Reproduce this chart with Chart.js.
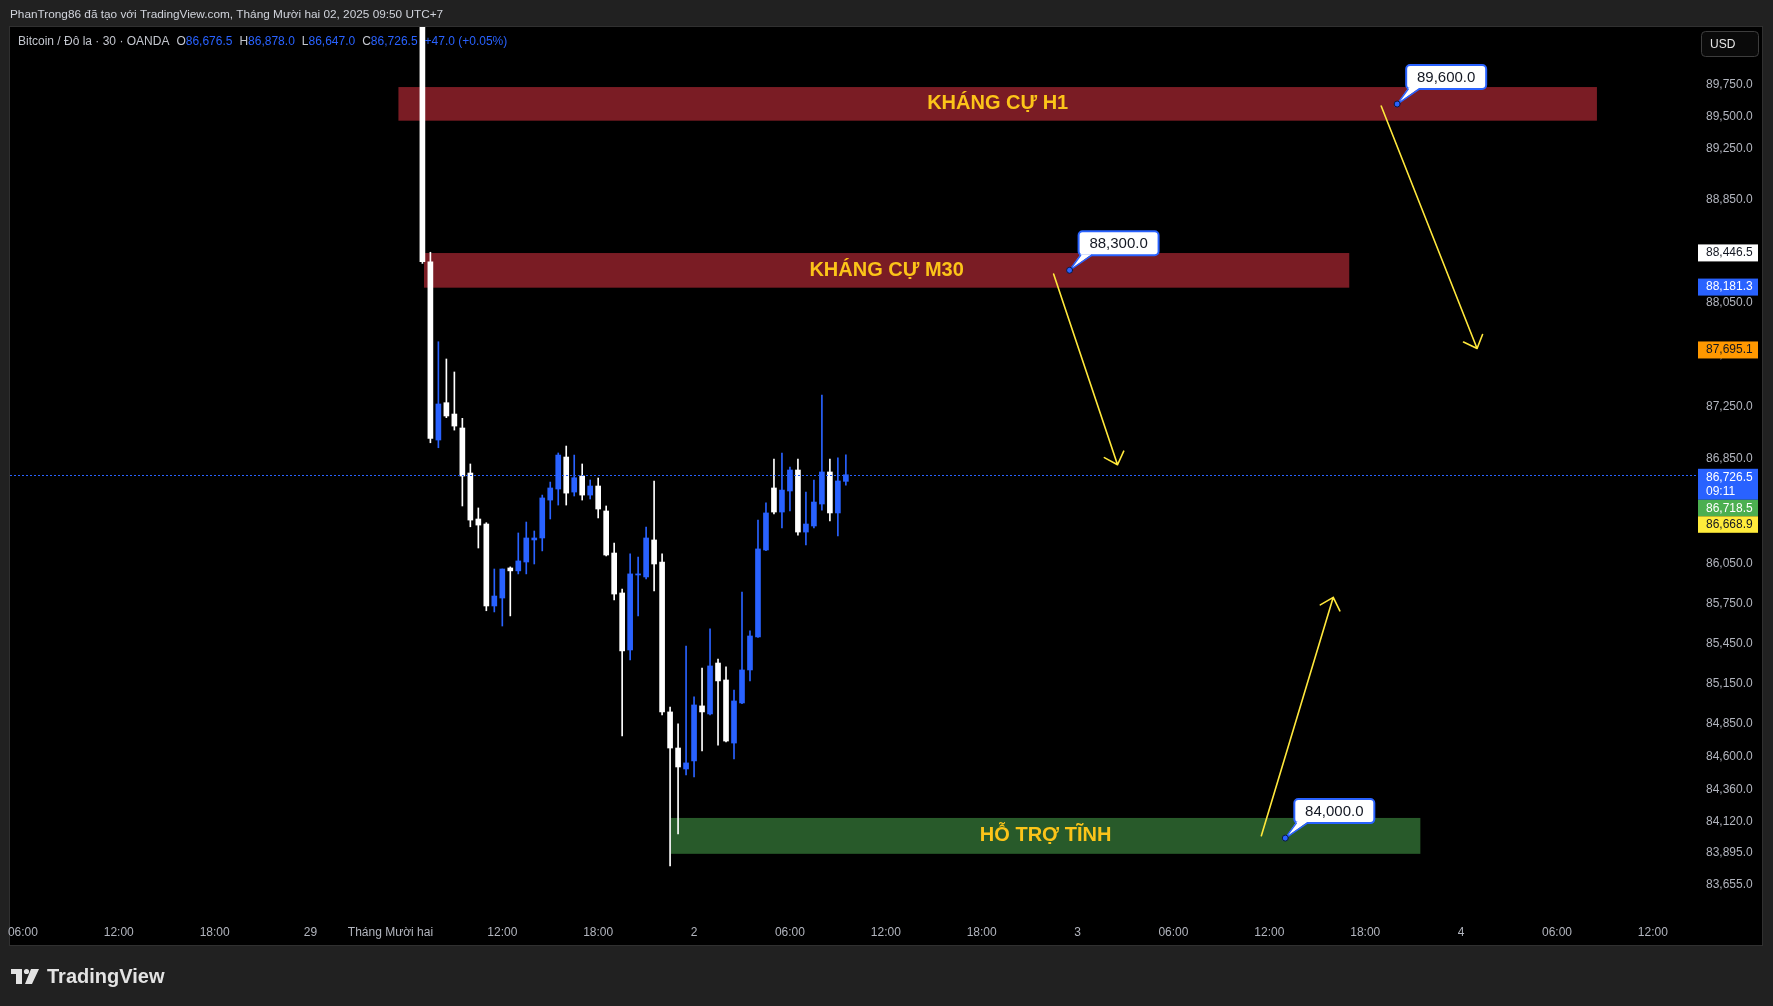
<!DOCTYPE html>
<html lang="vi">
<head>
<meta charset="UTF-8">
<title>Bitcoin / Đô la · 30 · OANDA</title>
<style>
  html, body { margin: 0; padding: 0; background: #212121; overflow: hidden; }
  #chart { display: block; }
</style>
</head>
<body>
<canvas id="chart" width="1773" height="1006"></canvas>
<script src="https://cdn.jsdelivr.net/npm/chart.js"></script>
<script>
// 30 phút / nến, chỉ số nến đầu tiên trên trục thời gian
const FIRST_BAR = 50;

const opens  = [90500, 88366, 86992, 87278, 87191, 87084, 86740, 86390, 86352, 85732,
                85792, 86019, 85997, 86064, 86231, 86246, 86534, 86618, 86862, 86595,
                86717, 86572, 86641, 86451, 86132, 85830, 85401, 85966, 85951, 86231,
                86064, 84937, 84668, 84512, 84572, 84982, 84922, 85303, 85176, 84705,
                85004, 85251, 85499, 86155, 86626, 86443, 86603, 86763, 86291, 86337,
                86504, 86748, 86436, 86676.5];
const highs  = [90500, 88440, 87747, 87614, 87514, 87158, 86809, 86474, 86362, 86011,
                86011, 86027, 86284, 86367, 86299, 86572, 86671, 86893, 86946, 86877,
                86809, 86687, 86702, 86489, 86208, 85860, 86125, 86102, 86329, 86679,
                86125, 84974, 84848, 85431, 85049, 85266, 85559, 85333, 85274, 85101,
                85837, 85544, 86382, 86512, 86847, 86893, 86786, 86847, 86595, 86687,
                87337, 86847, 86855, 86878];
const lows   = [88354, 86971, 86933, 87163, 87068, 86489, 86331, 86170, 85696, 85687,
                85581, 85657, 85974, 85974, 86049, 86148, 86390, 86496, 86496, 86565,
                86534, 86542, 86398, 86110, 85777, 84758, 85326, 85657, 85936, 85845,
                84915, 83795, 84031, 84468, 84453, 84646, 84915, 84690, 84713, 84587,
                84998, 85169, 85495, 86150, 86428, 86322, 86451, 86268, 86193, 86322,
                86458, 86375, 86261, 86647];
const closes = [88366, 87005, 87268, 87176, 87099, 86717, 86382, 86344, 85732, 85807,
                86011, 85997, 86072, 86246, 86246, 86550, 86626, 86877, 86587, 86704,
                86572, 86641, 86466, 86117, 85822, 85394, 85974, 85974, 86246, 86049,
                84937, 84668, 84527, 84557, 84989, 84937, 85281, 85169, 84720, 85019,
                85251, 85506, 86163, 86436, 86443, 86610, 86763, 86291, 86352, 86519,
                86748, 86436, 86679.5, 86726.5];

const timeTickIdx    = [0, 12, 24, 36, 46, 60, 72, 84, 96, 108, 120, 132, 144, 156, 168, 180, 192, 204];
const timeTickLabels = ['06:00', '12:00', '18:00', '29', 'Tháng Mười hai', '12:00', '18:00', '2', '06:00',
                        '12:00', '18:00', '3', '06:00', '12:00', '18:00', '4', '06:00', '12:00'];
const priceTicks = [89750, 89500, 89250, 88850, 88450, 88050, 87650, 87250, 86850, 86450,
                    86050, 85750, 85450, 85150, 84850, 84600, 84360, 84120, 83895, 83655];

// vùng kháng cự / hỗ trợ
const zoneNames  = ['KHÁNG CỰ H1', 'KHÁNG CỰ M30', 'HỖ TRỢ TĨNH'];
const zoneFrom   = [47, 50.2, 81.1];
const zoneTo     = [197, 166, 174.9];
const zoneTop    = [89734, 88434, 84149];
const zoneBottom = [89469, 88165, 83884];

// ghi chú giá
const noteBar   = [172, 131, 158];
const notePrice = [89600, 88300, 84000];

// mũi tên
const arrowFromBar   = [170, 129, 155];
const arrowFromPrice = [89584, 88271, 84018];
const arrowToBar     = [182, 137, 164];
const arrowToPrice   = [87695.1, 86803, 85797];

const lastPrice = 86726.5;
const lastTime = '09:11';
const tagPrices = [88446.5, 88181.3, 87695.1];
const stackedTags = [86718.5, 86668.9];

const FONT = '"Liberation Sans", Arial, sans-serif';
const BLUE = '#2962ff';
const fmt = v => v.toLocaleString('en-US', { minimumFractionDigits: 1, maximumFractionDigits: 1 });

const candleColor = opens.map((o, i) => closes[i] >= o ? BLUE : '#ffffff');
const bodies = opens.map((o, i) => ({ x: FIRST_BAR + i, y: [o, closes[i]] }));
const wicks = highs.map((h, i) => ({ x: FIRST_BAR + i, y: [lows[i], h] }));

function roundRect(c, x, y, w, h, r) {
  c.beginPath();
  c.moveTo(x + r, y);
  c.arcTo(x + w, y, x + w, y + h, r);
  c.arcTo(x + w, y + h, x, y + h, r);
  c.arcTo(x, y + h, x, y, r);
  c.arcTo(x, y, x + w, y, r);
  c.closePath();
}

const overlay = {
  id: 'overlay',
  beforeDraw(chart) {
    const c = chart.ctx, a = chart.chartArea;
    const sx = chart.scales.x, sy = chart.scales.y;
    c.save();
    c.fillStyle = '#212121';
    c.fillRect(0, 0, chart.width, chart.height);
    c.fillStyle = '#000000';
    c.fillRect(a.left, a.top, sy.right - a.left, sx.bottom - a.top);
    c.strokeStyle = '#303030';
    c.lineWidth = 1;
    c.strokeRect(a.left - 0.5, a.top - 0.5, sy.right - a.left + 1, sx.bottom - a.top + 1);
    c.restore();
  },
  beforeDatasetsDraw(chart) {
    const c = chart.ctx, a = chart.chartArea;
    const sx = chart.scales.x, sy = chart.scales.y;
    c.save();
    c.beginPath();
    c.rect(a.left, a.top, a.right - a.left, a.bottom - a.top);
    c.clip();
    const fills = ['#7a1c24', '#7a1c24', '#285a2a'];
    zoneNames.forEach((name, i) => {
      const x1 = sx.getPixelForValue(zoneFrom[i]), x2 = sx.getPixelForValue(zoneTo[i]);
      const y1 = sy.getPixelForValue(zoneTop[i]), y2 = sy.getPixelForValue(zoneBottom[i]);
      c.fillStyle = fills[i];
      c.fillRect(x1, y1, x2 - x1, y2 - y1);
      c.fillStyle = '#fcc419';
      c.font = 'bold 20px ' + FONT;
      c.textAlign = 'center';
      c.textBaseline = 'middle';
      c.fillText(name, (x1 + x2) / 2, (y1 + y2) / 2);
    });
    c.restore();
  },
  afterDatasetsDraw(chart) {
    const c = chart.ctx, a = chart.chartArea;
    const sx = chart.scales.x, sy = chart.scales.y;
    c.save();
    c.beginPath();
    c.rect(a.left, a.top, a.right - a.left, a.bottom - a.top);
    c.clip();

    // đường giá hiện tại
    const yl = Math.round(sy.getPixelForValue(lastPrice)) + 0.5;
    c.strokeStyle = BLUE;
    c.lineWidth = 1;
    c.setLineDash([2, 2]);
    c.beginPath();
    c.moveTo(a.left, yl);
    c.lineTo(a.right, yl);
    c.stroke();
    c.setLineDash([]);

    // mũi tên
    c.strokeStyle = '#ffe83b';
    c.lineWidth = 1.6;
    c.lineCap = 'round';
    arrowFromBar.forEach((b, i) => {
      const x1 = sx.getPixelForValue(b), y1 = sy.getPixelForValue(arrowFromPrice[i]);
      const x2 = sx.getPixelForValue(arrowToBar[i]), y2 = sy.getPixelForValue(arrowToPrice[i]);
      const ang = Math.atan2(y1 - y2, x1 - x2);
      c.beginPath();
      c.moveTo(x1, y1);
      c.lineTo(x2, y2);
      [0.75, -0.75].forEach(d => {
        c.moveTo(x2, y2);
        c.lineTo(x2 + 15 * Math.cos(ang + d), y2 + 15 * Math.sin(ang + d));
      });
      c.stroke();
    });

    // ghi chú giá
    noteBar.forEach((b, i) => {
      const ax = sx.getPixelForValue(b), ay = sy.getPixelForValue(notePrice[i]);
      const bx = ax + 9, by = ay - 39, bw = 80, bh = 24;
      c.lineWidth = 2;
      c.strokeStyle = BLUE;
      c.fillStyle = '#ffffff';
      roundRect(c, bx, by, bw, bh, 4);
      c.fill();
      c.stroke();
      c.beginPath();
      c.moveTo(bx + 2, by + bh - 1);
      c.lineTo(ax, ay);
      c.lineTo(bx + 13, by + bh - 1);
      c.closePath();
      c.fill();
      c.lineWidth = 1.5;
      c.beginPath();
      c.moveTo(bx + 2, by + bh);
      c.lineTo(ax, ay);
      c.lineTo(bx + 13, by + bh);
      c.stroke();
      c.fillStyle = '#131722';
      c.font = '15px ' + FONT;
      c.textAlign = 'center';
      c.textBaseline = 'middle';
      c.fillText(fmt(notePrice[i]), bx + bw / 2, by + bh / 2 + 1);
      c.beginPath();
      c.arc(ax, ay, 3, 0, Math.PI * 2);
      c.fillStyle = BLUE;
      c.fill();
      c.lineWidth = 1;
      c.strokeStyle = '#0b1a40';
      c.stroke();
    });
    c.restore();
  },
  afterDraw(chart) {
    const c = chart.ctx;
    const sy = chart.scales.y;
    c.save();

    // nhãn giá trên trục
    const tag = (top, h, bg, fg, lines) => {
      c.fillStyle = bg;
      c.fillRect(1698, top, 60, h);
      c.fillStyle = fg;
      c.font = '12px ' + FONT;
      c.textAlign = 'left';
      c.textBaseline = 'middle';
      lines.forEach((t, k) => c.fillText(t, 1706, top + 8.5 + k * 14));
    };
    const tagBg = ['#ffffff', BLUE, '#ff9800'];
    const tagFg = ['#131722', '#ffffff', '#131722'];
    tagPrices.forEach((p, i) => {
      const y = sy.getPixelForValue(p);
      tag(y - 7, 17, tagBg[i], tagFg[i], [fmt(p)]);
    });
    const yl = sy.getPixelForValue(lastPrice);
    tag(yl - 6, 31, BLUE, '#ffffff', [fmt(lastPrice), lastTime]);
    const stBg = ['#4caf50', '#ffeb3b'];
    const stFg = ['#ffffff', '#131722'];
    stackedTags.forEach((p, i) => tag(yl + 25 + i * 16.5, 16.5, stBg[i], stFg[i], [fmt(p)]));

    // nút USD
    c.lineWidth = 1;
    c.strokeStyle = '#3d3d3d';
    c.fillStyle = '#0a0a0a';
    roundRect(c, 1701.5, 31.5, 57, 25, 4);
    c.fill();
    c.stroke();
    c.fillStyle = '#e6e6e6';
    c.font = '12px ' + FONT;
    c.textBaseline = 'middle';
    c.fillText('USD', 1710, 44.5);

    // tiêu đề
    c.fillStyle = '#d1d4dc';
    c.font = '11.8px ' + FONT;
    c.fillText('PhanTrong86 đã tạo với TradingView.com, Tháng Mười hai 02, 2025 09:50 UTC+7', 10, 15);

    // chú giải OHLC
    c.font = '12px ' + FONT;
    let x = 18;
    const part = (t, col, gap) => {
      c.fillStyle = col;
      c.fillText(t, x, 42);
      x += c.measureText(t).width + (gap || 0);
    };
    part('Bitcoin / Đô la · 30 · OANDA', '#c3c6ce', 7);
    const n = closes.length - 1;
    const ohlc = [['O', opens[n]], ['H', highs[n]], ['L', lows[n]], ['C', closes[n]]];
    ohlc.forEach(([k, v]) => { part(k, '#c3c6ce'); part(fmt(v), BLUE, 7); });
    const chg = closes[n] - closes[n - 1];
    part('+' + fmt(chg) + ' (+' + (chg / closes[n - 1] * 100).toFixed(2) + '%)', BLUE);

    // logo
    c.fillStyle = '#e3e3e3';
    c.fillRect(11, 969, 11, 5);
    c.fillRect(16, 969, 6, 15);
    c.beginPath();
    c.arc(26.5, 971.5, 2.6, 0, Math.PI * 2);
    c.fill();
    c.beginPath();
    c.moveTo(31, 969); c.lineTo(39, 969); c.lineTo(32, 984); c.lineTo(25, 984);
    c.closePath();
    c.fill();
    c.font = 'bold 20px ' + FONT;
    c.fillText('TradingView', 47, 977);
    c.restore();
  }
};

new Chart(document.getElementById('chart'), {
  type: 'bar',
  data: {
    datasets: [
      { data: bodies, backgroundColor: candleColor, barThickness: 5, grouped: false, borderWidth: 0 },
      { data: wicks, backgroundColor: candleColor, barThickness: 1, grouped: false, borderWidth: 0 }
    ]
  },
  options: {
    responsive: false,
    animation: false,
    events: [],
    layout: { padding: { left: 10, top: 27, right: 11, bottom: 61 } },
    plugins: { legend: { display: false }, tooltip: { enabled: false } },
    scales: {
      x: {
        type: 'linear', min: -1.615, max: 209.4, offset: false,
        grid: { display: false, drawTicks: false }, border: { display: false },
        afterBuildTicks: s => { s.ticks = timeTickIdx.map(v => ({ value: v })); },
        afterFit: s => { s.height = 27; s.paddingLeft = 0; s.paddingRight = 0; },
        ticks: {
          autoSkip: false, maxRotation: 0, padding: 7, color: '#b2b5be',
          font: { family: FONT, size: 12 },
          callback: v => timeTickLabels[timeTickIdx.indexOf(v)]
        }
      },
      y: {
        type: 'logarithmic', position: 'right', min: 83412, max: 90209,
        grid: { display: false, drawTicks: false }, border: { display: false },
        afterBuildTicks: s => { s.ticks = priceTicks.map(v => ({ value: v })); },
        afterFit: s => { s.width = 66; s.paddingTop = 0; s.paddingBottom = 0; },
        ticks: {
          autoSkip: false, padding: 10, color: '#b2b5be',
          font: { family: FONT, size: 12 },
          callback: v => fmt(v)
        }
      }
    }
  },
  plugins: [overlay]
});
</script>
</body>
</html>
